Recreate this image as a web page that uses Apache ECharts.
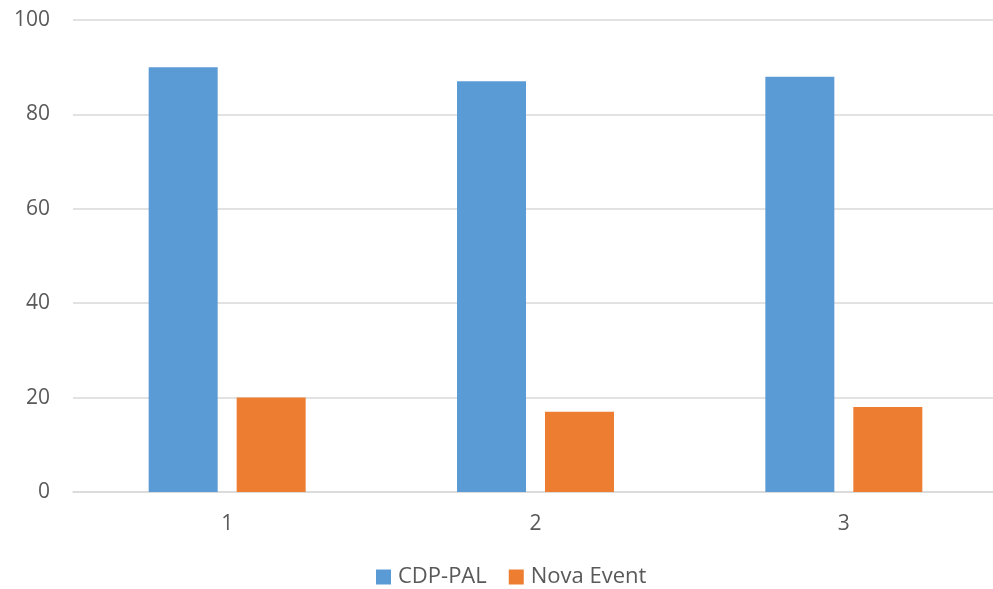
<!DOCTYPE html>
<html>
<head>
<meta charset="utf-8">
<script src="https://cdn.jsdelivr.net/npm/echarts@6/dist/echarts.min.js"></script>
<style>
  html, body { margin: 0; padding: 0; background: #ffffff; }
  #chart { width: 993px; height: 589px; }
</style>
</head>
<body>
<div id="chart"></div>
<script>
// Categories and series values
const categories = ['1', '2', '3'];
const cdpPal = [90, 87, 88];
const novaEvent = [20, 17, 18];
const seriesNames = ['CDP-PAL', 'Nova Event'];

const textColor = '#595959';
const gridColor = '#D9D9D9';
const fontFamily = '"Open Sans", "Liberation Sans", sans-serif';

const chart = echarts.init(document.getElementById('chart'), null, { renderer: 'canvas' });

chart.setOption({
  backgroundColor: '#ffffff',
  animation: false,
  // plot area runs slightly past the right edge of the canvas
  grid: { left: 73, top: 20, width: 925, height: 472, containLabel: false, outerBoundsMode: 'none' },
  legend: {
    data: seriesNames,
    left: 376,
    top: 566,
    padding: 0,
    itemWidth: 15,
    itemHeight: 15,
    itemGap: 22,
    icon: 'rect',
    textStyle: { color: textColor, fontSize: 22, fontFamily: fontFamily, padding: [0, 0, 0, 2] }
  },
  xAxis: {
    type: 'category',
    data: categories,
    axisLine: { show: true, lineStyle: { color: gridColor, width: 1.5 } },
    axisTick: { show: false },
    axisLabel: { color: textColor, fontSize: 21, fontFamily: fontFamily, margin: 22 }
  },
  yAxis: {
    type: 'value',
    min: 0,
    max: 100,
    interval: 20,
    axisLine: { show: false },
    axisTick: { show: false },
    splitLine: { lineStyle: { color: gridColor, width: 1.5 } },
    axisLabel: { color: textColor, fontSize: 21, fontFamily: fontFamily, margin: 23 }
  },
  series: [
    {
      name: seriesNames[0],
      type: 'bar',
      data: cdpPal,
      barWidth: 69,
      barGap: '27.5%',
      itemStyle: { color: '#5B9BD5' }
    },
    {
      name: seriesNames[1],
      type: 'bar',
      data: novaEvent,
      barWidth: 69,
      barGap: '27.5%',
      itemStyle: { color: '#ED7D31' }
    }
  ]
});
</script>
</body>
</html>
